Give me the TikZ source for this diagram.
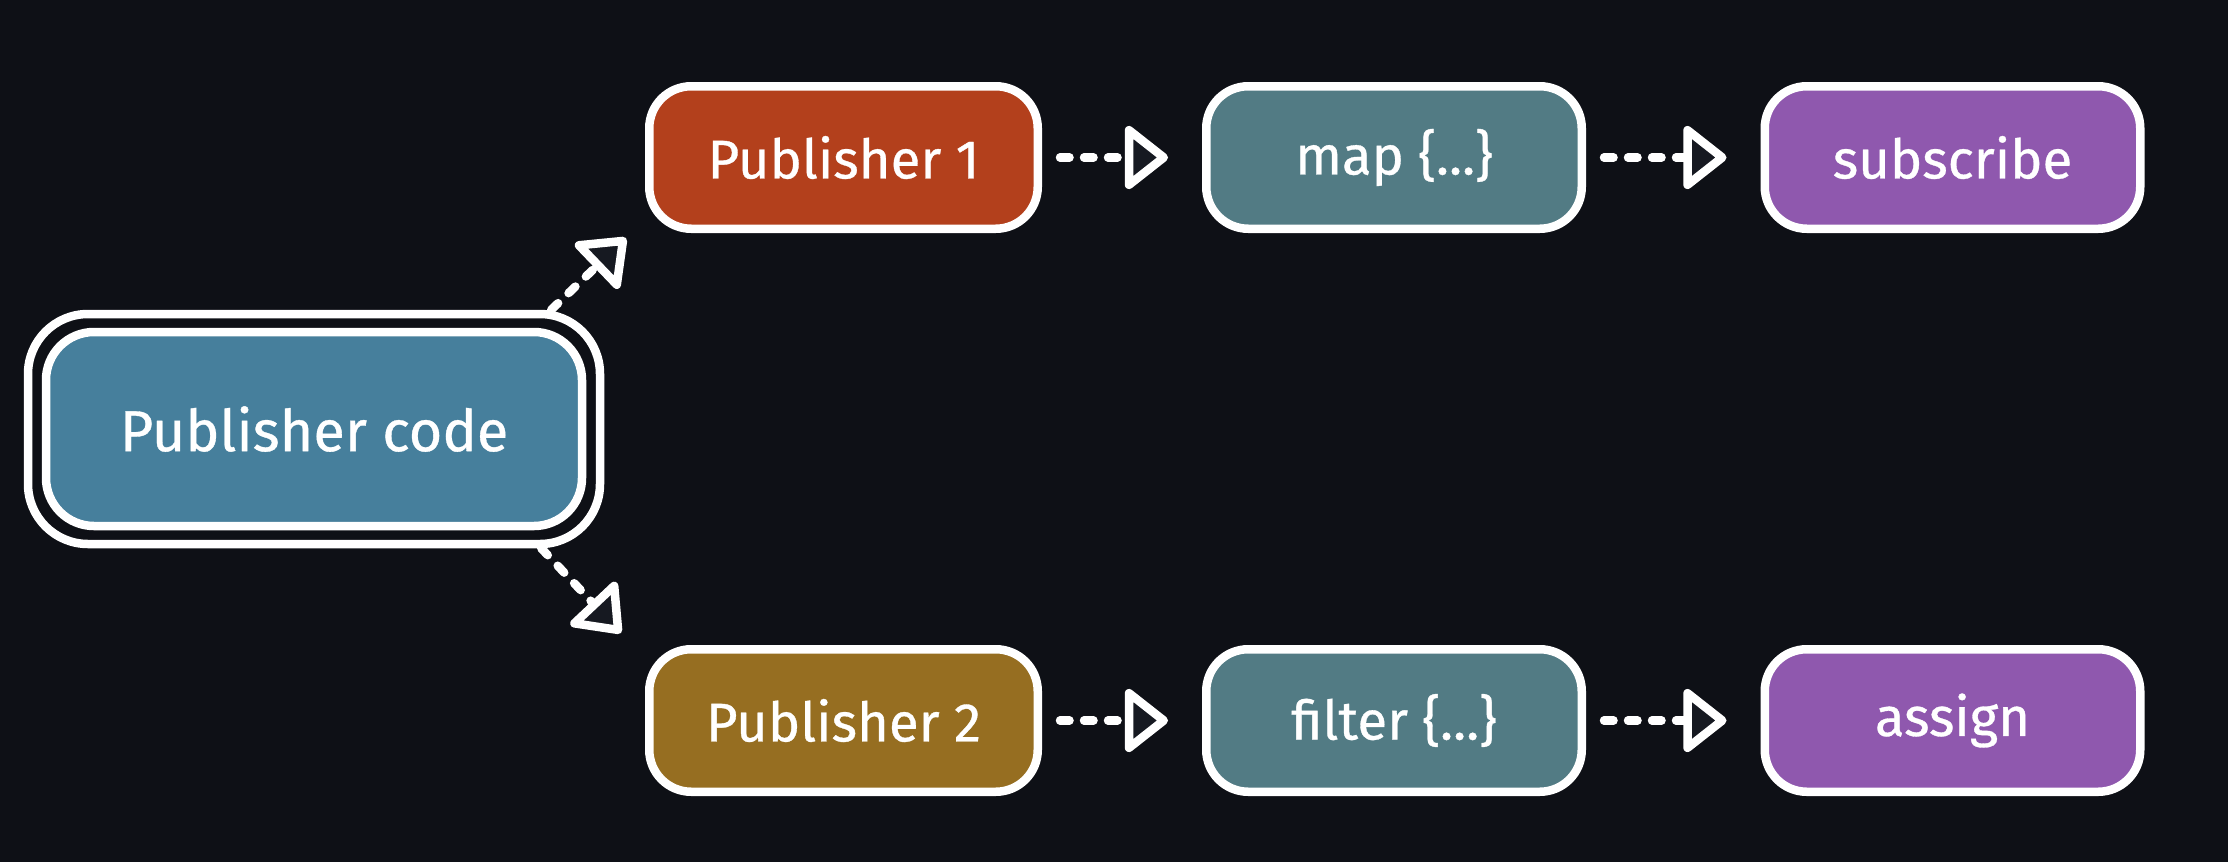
\documentclass[tikz,border=0pt]{standalone}
\usepackage{fontspec}
\setmainfont{Fira Sans}[FakeBold=0.6]
\usepackage{xcolor}
\usepackage{tikz}
\usetikzlibrary{shapes,arrows.meta,positioning,calc}
\definecolor{bgdark}{HTML}{0E1016}
\definecolor{arrowfill}{HTML}{161921}
\definecolor{codeblue}{HTML}{467F9C}
\definecolor{rustred}{HTML}{B3401C}
\definecolor{ochre}{HTML}{966E21}
\definecolor{slateteal}{HTML}{527B84}
\definecolor{lilac}{HTML}{8F58AE}

\begin{document}
\begin{tikzpicture}[x=1cm,y=1cm,
    box/.style={draw=white,line width=0.85mm,rounded corners=0.42cm,
        minimum height=1.425cm,text=white,font=\fontsize{15.5}{19}\selectfont},
    flow/.style={draw=white,line width=0.85mm,line cap=round,
        dash pattern=on 0.95mm off 1.45mm,
        -{Triangle[length=4.6mm,width=7mm,fill=arrowfill,round]},
        shorten <=1.8mm,shorten >=3.4mm}]
    \fill[bgdark] (0,0) rectangle (22.28,8.62);
    \useasboundingbox (0,0) rectangle (22.28,8.62);

    % Source with double border
    \node[box,rounded corners=0.6cm,minimum width=5.72cm,minimum height=2.30cm] (codeouter) at (3.14,4.33) {};
    \node[box,fill=codeblue,rounded corners=0.48cm,minimum width=5.36cm,minimum height=1.94cm,
        font=\fontsize{16.4}{20}\selectfont] (code) at (3.14,4.33) {Publisher code};

    % Upper chain
    \node[box,fill=rustred,minimum width=3.885cm] (pub1) at (8.435,7.045) {Publisher 1};
    \node[box,fill=slateteal,minimum width=3.755cm] (map) at (13.94,7.045) {map \{...\}};
    \node[box,fill=lilac,minimum width=3.755cm] (subscribe) at (19.525,7.045) {subscribe};

    % Lower chain
    \node[box,fill=ochre,minimum width=3.885cm] (pub2) at (8.435,1.415) {Publisher 2};
    \node[box,fill=slateteal,minimum width=3.755cm] (filter) at (13.94,1.415) {filter \{...\}};
    \node[box,fill=lilac,minimum width=3.755cm] (assign) at (19.525,1.415) {assign};

    % Connections
    \draw[flow,shorten <=0mm,shorten >=0mm] ($(codeouter.north east)+(-0.53,0)$) -- ($(pub1.south west)+(-0.19,-0.05)$);
    \draw[flow,shorten <=0mm,shorten >=0mm] ($(codeouter.south east)+(-0.63,0)$) -- ($(pub2.north west)+(-0.24,0.12)$);
    \draw[flow] (pub1) -- (map);
    \draw[flow] (map) -- (subscribe);
    \draw[flow] (pub2) -- (filter);
    \draw[flow] (filter) -- (assign);
\end{tikzpicture}
\end{document}
